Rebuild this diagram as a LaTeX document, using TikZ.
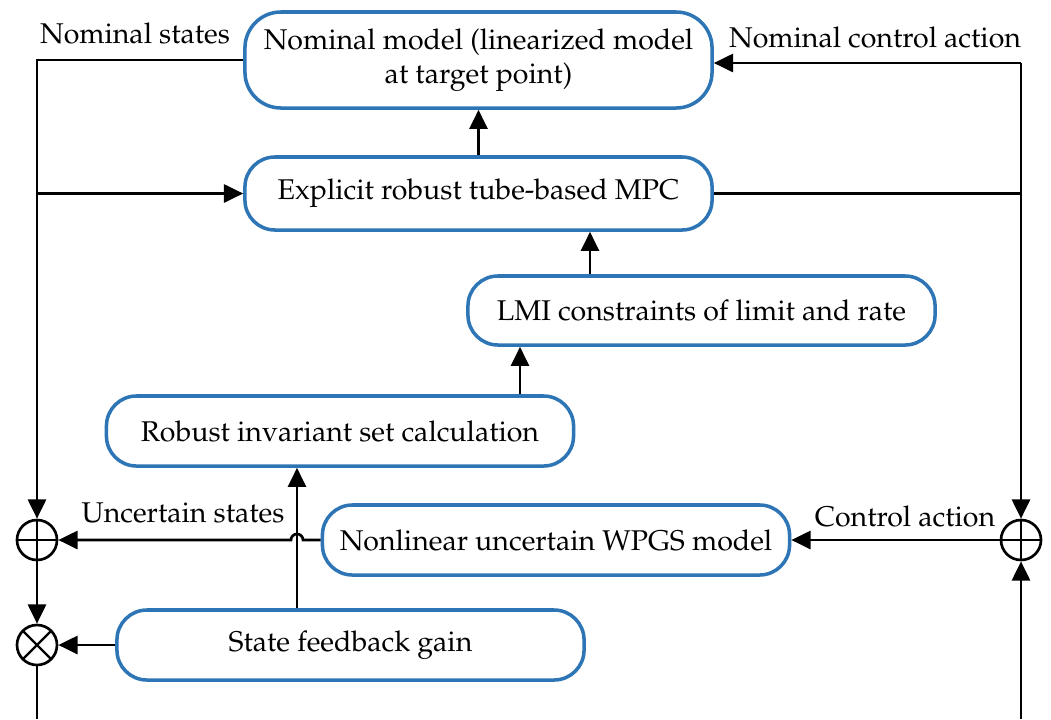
\documentclass[tikz,border=0pt]{standalone}
\usepackage[T1]{fontenc}
\usepackage{mathpazo}
\usetikzlibrary{arrows.meta,calc}
\definecolor{boxblue}{RGB}{46,117,182}
\tikzset{
  blk/.style={draw=boxblue, line width=2.5pt, rounded corners=0.75cm, minimum width=11.675cm, minimum height=1.75cm, align=center, inner sep=0pt},
  conn/.style={line width=1.9pt, black},
  arr/.style={conn, -{Triangle[length=0.48cm,width=0.45cm]}},
  sumnode/.style={circle, draw, line width=1.9pt, minimum size=1cm, inner sep=0pt,
    path picture={\draw[line width=1.6pt] (path picture bounding box.north) -- (path picture bounding box.south) (path picture bounding box.west) -- (path picture bounding box.east);}},
  mulnode/.style={circle, draw, line width=1.9pt, minimum size=1cm, inner sep=0pt,
    path picture={\draw[line width=1.6pt] (path picture bounding box.north west) -- (path picture bounding box.south east) (path picture bounding box.south west) -- (path picture bounding box.north east);}},
  lbl/.style={inner sep=0pt}
}
\begin{document}
\begin{tikzpicture}[x=0.025cm,y=-0.025cm,font=\fontsize{20.3}{24}\selectfont]
\useasboundingbox (0,0) rectangle (1051,719);
% boxes
\node[blk, minimum height=2.4cm, rounded corners=0.9cm] (nom) at (478.5,60) {Nominal model (linearized model\\at target point)};
\node[blk, minimum height=1.825cm] (mpc) at (478.5,193.5) {Explicit robust tube-based MPC};
\node[blk, minimum height=1.725cm] (lmi) at (701.5,310.5) {LMI constraints of limit and rate};
\node[blk] (ris) at (340,431) {Robust invariant set calculation};
\node[blk] (wpgs) at (556,540) {Nonlinear uncertain WPGS model};
\node[blk] (sfg) at (350.5,645) {State feedback gain};
% junctions
\node[sumnode] (plusL) at (37,540) {};
\node[mulnode] (mulL) at (37,645) {};
\node[sumnode] (plusR) at (1021,540) {};
% helper coordinates
\coordinate (xa) at (590,0);
\coordinate (xb) at (520,0);
\coordinate (xc) at (297,0);
\coordinate (botL) at (37,719);
\coordinate (botR) at (1021,719);
\coordinate (topR) at (1021,63);
% labels
\node[lbl] (lns) at (135,33) {Nominal states};
\node[lbl] (lnca) at (875,37) {Nominal control action};
\node[lbl] (lus) at (183,513) {Uncertain states};
\node[lbl] (lca) at (905,516) {Control action};
% connectors
\draw[arr] (nom.west) -- (nom.west -| plusL) -- (plusL.north);
\draw[arr] (plusL |- mpc.west) -- (mpc.west);
\draw[arr] (topR) -- (topR -| nom.east);
\draw[arr] (mpc.east) -- (mpc.east -| plusR) -- (topR) -- (plusR.north);
\draw[arr] (mpc.north) -- (nom.south);
\draw[arr] (lmi.north -| xa) -- (mpc.south -| xa);
\draw[arr] (ris.north -| xb) -- (lmi.south -| xb);
\draw[arr] (sfg.north -| xc) -- (ris.south -| xc);
\draw[arr] (wpgs.west) -- ($(wpgs.west -| xc)+(6,0)$) arc[start angle=0,end angle=180,radius=0.15cm] -- (plusL.east);
\draw[arr] (plusR.west) -- (wpgs.east);
\draw[arr] (sfg.west) -- (mulL.east);
\draw[arr] (plusL.south) -- (mulL.north);
\draw[conn] (mulL.south) -- (botL);
\draw[arr] (botR) -- (plusR.south);
\end{tikzpicture}
\end{document}
